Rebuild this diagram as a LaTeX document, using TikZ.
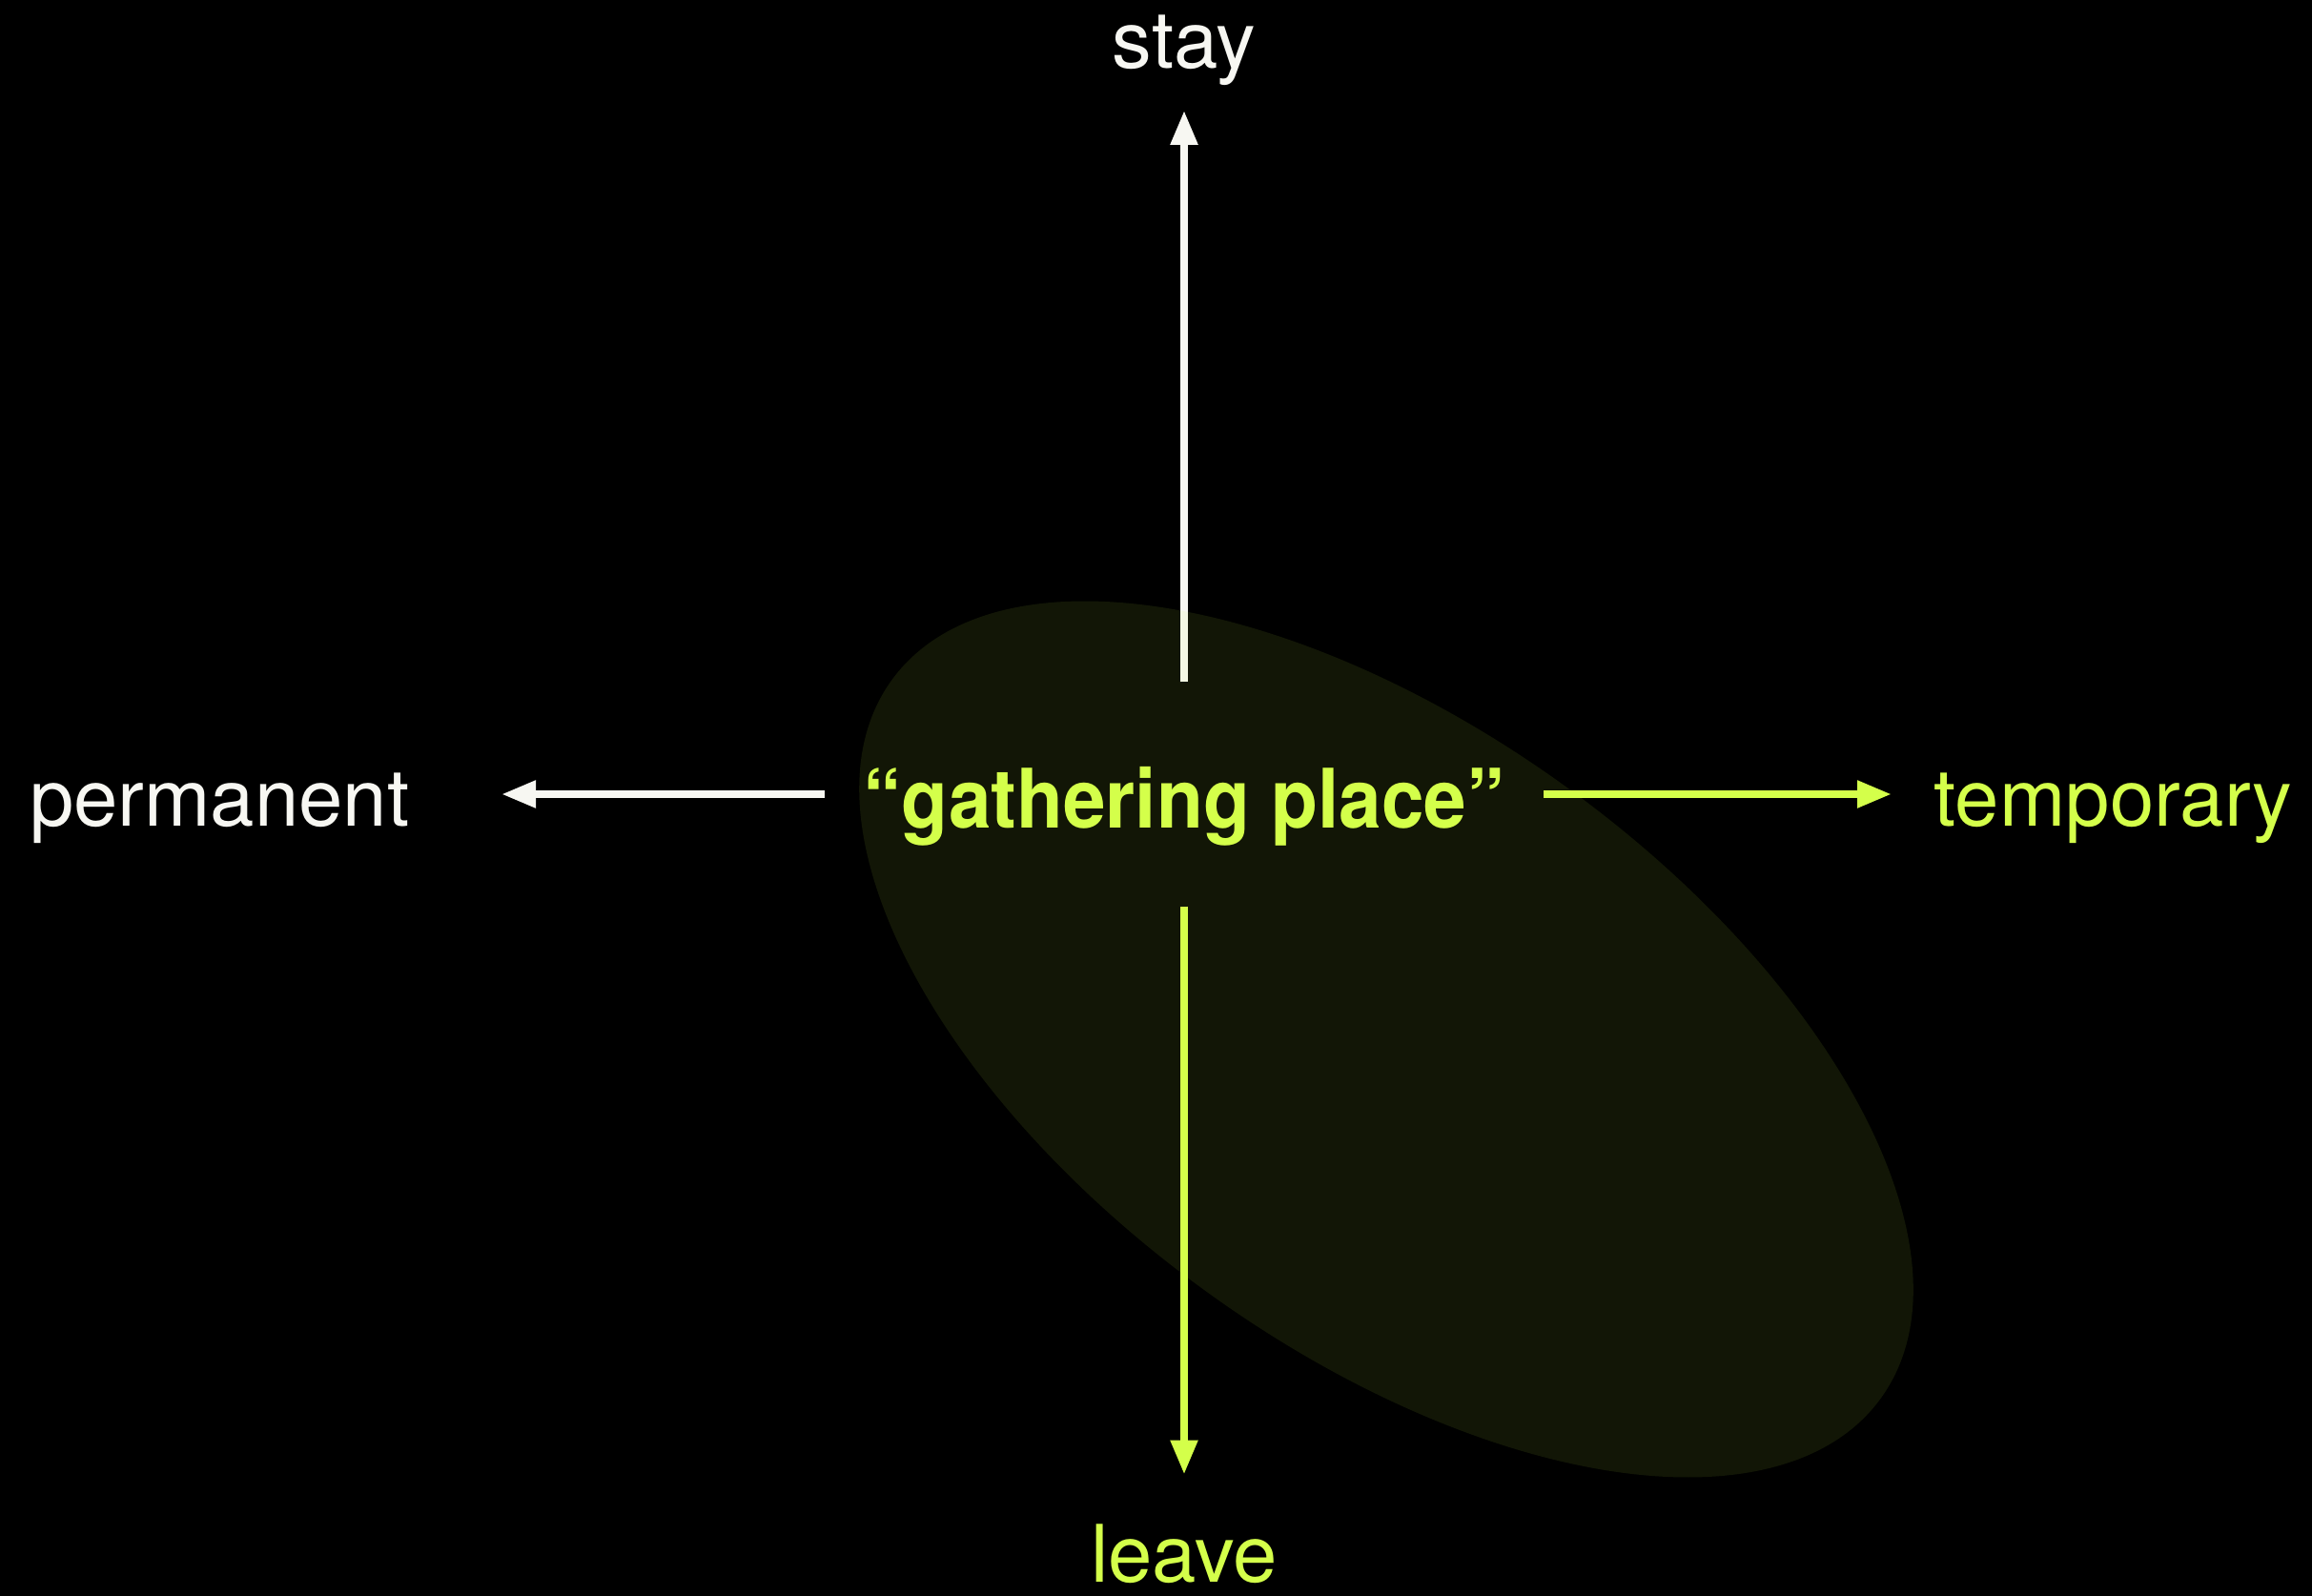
\documentclass[tikz,border=0pt]{standalone}
\usepackage{fontspec}
\setmainfont{TeX Gyre Heros}
\usetikzlibrary{arrows.meta,positioning}
\definecolor{gplime}{HTML}{D4FF4A}
\definecolor{gpwhite}{HTML}{F7F7F2}

\begin{document}
\begin{tikzpicture}[
    font=\fontsize{23.7}{28}\selectfont,
    pole/.style={text=gpwhite, inner sep=0pt},
    limepole/.style={pole, text=gplime},
    axis/.style={-{Triangle[length=3.6mm,width=2.7mm]}, line width=0.8mm, draw=gpwhite},
    limeaxis/.style={axis, draw=gplime},
    blob/.style={fill=gplime, fill opacity=0.085}
  ]
    \useasboundingbox (0,0) rectangle (24.25,16.73);
    \fill[black] (-0.1,-0.1) rectangle (24.35,16.83);

    \node[limepole, font=\fontsize{24.5}{28}\selectfont\bfseries\addfontfeature{FakeStretch=0.93},
      text height=7mm, text depth=0mm,
      minimum width=75.3mm, minimum height=23.4mm] (gathering) at (12.42,8.40) {“gathering place”};
    \node[pole, anchor=base] (stay) at (12.42,16.01) {stay};
    \node[pole, anchor=base east] (permanent) at (4.30,8.07) {permanent};
    \node[limepole, anchor=base west] (temporary) at (20.28,8.07) {temporary};
    \node[limepole, anchor=base] (leave) at (12.42,0.14) {leave};

    \draw[axis, shorten >=2.5mm] (gathering.north) -- (stay.south -| gathering.north);
    \draw[axis, shorten >=9.6mm] (gathering.west) -- (permanent.east |- gathering.west);
    \draw[limeaxis, shorten >=4.4mm] (gathering.east) -- (temporary.west |- gathering.east);
    \draw[limeaxis, shorten >=5.1mm] (gathering.south) -- (leave.north -| gathering.south);

    % the soft patch behind the centre
    \coordinate (blobcentre) at (14.54,5.83);
    \fill[blob, rotate around={-36:(blobcentre)}] (blobcentre) ellipse [x radius=6.41, y radius=3.25];
\end{tikzpicture}
\end{document}
